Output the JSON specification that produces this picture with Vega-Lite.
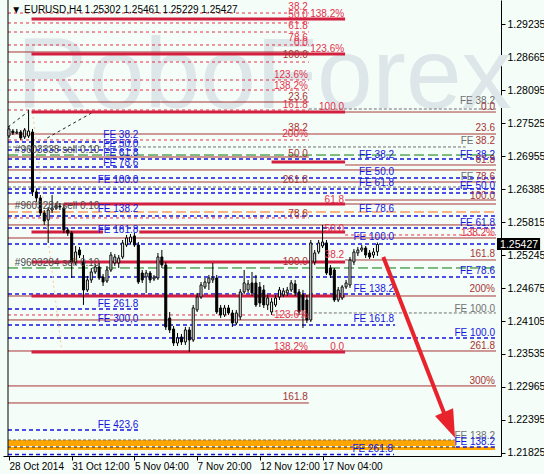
{
 "$schema": "https://vega.github.io/schema/vega-lite/v6.json",
 "width": 498, "height": 456,
 "autosize": {"type": "none"},
 "padding": {"left": 3, "top": 0, "right": 43, "bottom": 18},
 "background": "#f4fdf8",
 "config": {"view": {"stroke": null}, "font": "Liberation Sans"},
 "datasets": {
  "candles": [
   {"i":0,"o":1.27301,"c":1.27422,"h":1.27474,"l":1.27266},
   {"i":1,"o":1.27387,"c":1.27353,"h":1.27422,"l":1.27318},
   {"i":2,"o":1.27353,"c":1.27370,"h":1.27422,"l":1.27335},
   {"i":3,"o":1.27370,"c":1.27266,"h":1.27405,"l":1.27232},
   {"i":4,"o":1.27284,"c":1.27405,"h":1.27439,"l":1.27249},
   {"i":5,"o":1.27301,"c":1.27387,"h":1.27750,"l":1.27266},
   {"i":6,"o":1.27370,"c":1.26334,"h":1.27422,"l":1.26265},
   {"i":7,"o":1.26334,"c":1.26230,"h":1.26385,"l":1.26161},
   {"i":8,"o":1.26230,"c":1.25971,"h":1.26282,"l":1.25919},
   {"i":9,"o":1.25971,"c":1.25832,"h":1.26022,"l":1.25764},
   {"i":10,"o":1.25850,"c":1.26022,"h":1.26074,"l":1.25453},
   {"i":11,"o":1.26022,"c":1.26057,"h":1.26282,"l":1.25971},
   {"i":12,"o":1.26057,"c":1.26092,"h":1.26144,"l":1.26022},
   {"i":13,"o":1.26092,"c":1.26074,"h":1.26144,"l":1.26022},
   {"i":14,"o":1.26057,"c":1.25677,"h":1.26109,"l":1.25625},
   {"i":15,"o":1.25677,"c":1.25625,"h":1.25712,"l":1.25574},
   {"i":16,"o":1.25625,"c":1.25124,"h":1.25660,"l":1.24848},
   {"i":17,"o":1.25124,"c":1.25297,"h":1.25401,"l":1.25073},
   {"i":18,"o":1.25332,"c":1.25245,"h":1.25384,"l":1.25193},
   {"i":19,"o":1.25124,"c":1.24641,"h":1.25245,"l":1.24382},
   {"i":20,"o":1.24641,"c":1.24814,"h":1.24883,"l":1.24607},
   {"i":21,"o":1.24814,"c":1.24952,"h":1.25021,"l":1.24762},
   {"i":22,"o":1.24952,"c":1.25038,"h":1.25090,"l":1.24917},
   {"i":23,"o":1.25038,"c":1.24848,"h":1.25107,"l":1.24814},
   {"i":24,"o":1.24865,"c":1.24779,"h":1.24917,"l":1.24710},
   {"i":25,"o":1.24796,"c":1.24986,"h":1.25055,"l":1.24762},
   {"i":26,"o":1.24986,"c":1.25245,"h":1.25297,"l":1.24952},
   {"i":27,"o":1.25107,"c":1.25211,"h":1.25263,"l":1.25055},
   {"i":28,"o":1.25107,"c":1.25193,"h":1.25245,"l":1.25021},
   {"i":29,"o":1.25211,"c":1.25453,"h":1.25504,"l":1.25176},
   {"i":30,"o":1.25418,"c":1.25539,"h":1.25591,"l":1.25384},
   {"i":31,"o":1.25470,"c":1.25556,"h":1.25608,"l":1.25435},
   {"i":32,"o":1.25574,"c":1.25418,"h":1.25625,"l":1.25384},
   {"i":33,"o":1.25418,"c":1.24779,"h":1.25470,"l":1.24745},
   {"i":34,"o":1.24934,"c":1.24814,"h":1.24986,"l":1.24762},
   {"i":35,"o":1.24865,"c":1.24934,"h":1.24986,"l":1.24589},
   {"i":36,"o":1.24934,"c":1.24814,"h":1.24969,"l":1.24762},
   {"i":37,"o":1.24831,"c":1.24865,"h":1.24900,"l":1.24796},
   {"i":38,"o":1.24848,"c":1.25211,"h":1.25280,"l":1.24814},
   {"i":39,"o":1.25211,"c":1.25073,"h":1.25332,"l":1.25021},
   {"i":40,"o":1.25073,"c":1.24002,"h":1.25124,"l":1.23950},
   {"i":41,"o":1.24157,"c":1.23950,"h":1.24261,"l":1.23898},
   {"i":42,"o":1.23967,"c":1.23725,"h":1.24019,"l":1.23674},
   {"i":43,"o":1.23725,"c":1.23812,"h":1.23898,"l":1.23674},
   {"i":44,"o":1.23829,"c":1.23743,"h":1.23881,"l":1.23691},
   {"i":45,"o":1.23743,"c":1.23950,"h":1.24002,"l":1.23691},
   {"i":46,"o":1.23950,"c":1.23777,"h":1.24002,"l":1.23570},
   {"i":47,"o":1.23777,"c":1.24330,"h":1.24382,"l":1.23743},
   {"i":48,"o":1.24296,"c":1.24520,"h":1.24589,"l":1.24261},
   {"i":49,"o":1.24520,"c":1.24727,"h":1.24779,"l":1.24486},
   {"i":50,"o":1.24693,"c":1.24779,"h":1.24848,"l":1.24658},
   {"i":51,"o":1.24762,"c":1.24848,"h":1.24900,"l":1.24641},
   {"i":52,"o":1.24814,"c":1.24848,"h":1.25107,"l":1.24762},
   {"i":53,"o":1.24848,"c":1.24261,"h":1.24900,"l":1.24226},
   {"i":54,"o":1.24330,"c":1.24209,"h":1.24382,"l":1.24157},
   {"i":55,"o":1.24209,"c":1.24330,"h":1.24382,"l":1.24175},
   {"i":56,"o":1.24330,"c":1.24244,"h":1.24382,"l":1.24209},
   {"i":57,"o":1.24244,"c":1.24071,"h":1.24296,"l":1.24002},
   {"i":58,"o":1.24071,"c":1.24244,"h":1.24296,"l":1.24036},
   {"i":59,"o":1.24175,"c":1.24607,"h":1.24658,"l":1.24123},
   {"i":60,"o":1.24607,"c":1.24762,"h":1.24986,"l":1.24572},
   {"i":61,"o":1.24641,"c":1.24745,"h":1.24814,"l":1.24589},
   {"i":62,"o":1.24762,"c":1.24589,"h":1.24952,"l":1.24537},
   {"i":63,"o":1.24762,"c":1.24382,"h":1.24900,"l":1.24347},
   {"i":64,"o":1.24693,"c":1.24416,"h":1.24779,"l":1.24347},
   {"i":65,"o":1.24641,"c":1.24382,"h":1.24727,"l":1.24330},
   {"i":66,"o":1.24382,"c":1.24503,"h":1.24555,"l":1.24296},
   {"i":67,"o":1.24261,"c":1.24434,"h":1.24503,"l":1.24209},
   {"i":68,"o":1.24382,"c":1.24503,"h":1.24555,"l":1.24347},
   {"i":69,"o":1.24520,"c":1.24641,"h":1.24693,"l":1.24468},
   {"i":70,"o":1.24555,"c":1.24624,"h":1.24676,"l":1.24520},
   {"i":71,"o":1.24589,"c":1.24641,"h":1.24693,"l":1.24537},
   {"i":72,"o":1.24641,"c":1.24762,"h":1.24814,"l":1.24607},
   {"i":73,"o":1.24745,"c":1.24589,"h":1.24814,"l":1.24537},
   {"i":74,"o":1.24607,"c":1.24261,"h":1.24658,"l":1.24209},
   {"i":75,"o":1.24555,"c":1.24296,"h":1.24641,"l":1.23984},
   {"i":76,"o":1.24468,"c":1.24123,"h":1.24555,"l":1.24071},
   {"i":77,"o":1.24123,"c":1.25453,"h":1.25504,"l":1.24088},
   {"i":78,"o":1.25124,"c":1.25280,"h":1.25332,"l":1.25073},
   {"i":79,"o":1.25297,"c":1.25453,"h":1.25504,"l":1.25263},
   {"i":80,"o":1.25401,"c":1.25470,"h":1.25764,"l":1.25366},
   {"i":81,"o":1.25453,"c":1.24934,"h":1.25504,"l":1.24900},
   {"i":82,"o":1.25021,"c":1.24900,"h":1.25073,"l":1.24848},
   {"i":83,"o":1.24986,"c":1.24468,"h":1.25021,"l":1.24434},
   {"i":84,"o":1.24468,"c":1.24641,"h":1.24693,"l":1.24434},
   {"i":85,"o":1.24503,"c":1.24693,"h":1.24727,"l":1.24468},
   {"i":86,"o":1.24693,"c":1.24762,"h":1.24814,"l":1.24658},
   {"i":87,"o":1.24727,"c":1.25159,"h":1.25211,"l":1.24676},
   {"i":88,"o":1.25124,"c":1.25297,"h":1.25349,"l":1.25073},
   {"i":89,"o":1.25280,"c":1.25332,"h":1.25384,"l":1.25228},
   {"i":90,"o":1.25332,"c":1.25366,"h":1.25418,"l":1.25297},
   {"i":91,"o":1.25366,"c":1.25245,"h":1.25401,"l":1.25193},
   {"i":92,"o":1.25280,"c":1.25211,"h":1.25332,"l":1.25176},
   {"i":93,"o":1.25245,"c":1.25297,"h":1.25366,"l":1.25193},
   {"i":94,"o":1.25302,"c":1.25427,"h":1.25461,"l":1.25229}
  ],
  "lines": [
   {"p":1.29425,"a":-0.25,"b":76.5,"k":"fibo"},
   {"p":1.29253,"a":-0.25,"b":76.5,"k":"fibo"},
   {"p":1.29097,"a":-0.25,"b":76.5,"k":"fibo"},
   {"p":1.28873,"a":-0.25,"b":76.5,"k":"fibo"},
   {"p":1.28579,"a":-0.25,"b":76.5,"k":"fibo"},
   {"p":1.28268,"a":-0.25,"b":76.5,"k":"fibo"},
   {"p":1.28095,"a":-0.25,"b":76.5,"k":"fibo"},
   {"p":1.27750,"a":-0.25,"b":76.5,"k":"fibo"},
   {"p":1.27232,"a":-0.25,"b":76.5,"k":"fibo"},
   {"p":1.25885,"a":-0.25,"b":76.5,"k":"fibo"},
   {"p":1.24209,"a":-0.25,"b":76.5,"k":"fibo"},
   {"p":1.25591,"a":85.75,"b":124.25,"k":"fibo"},
   {"p":1.28752,"a":-0.25,"b":76.5,"k":"dred"},
   {"p":1.27888,"a":-0.25,"b":76.5,"k":"dred"},
   {"p":1.26938,"a":-0.25,"b":76.5,"k":"dred"},
   {"p":1.24123,"a":-0.25,"b":76.5,"k":"dred"},
   {"p":1.22689,"a":-0.25,"b":76.5,"k":"dred"},
   {"p":1.27715,"a":85.75,"b":124.25,"k":"dred"},
   {"p":1.26800,"a":85.75,"b":124.25,"k":"dred"},
   {"p":1.26195,"a":85.75,"b":124.25,"k":"dred"},
   {"p":1.25159,"a":85.75,"b":124.25,"k":"dred"},
   {"p":1.24537,"a":-0.25,"b":124.25,"k":"dred"},
   {"p":1.23587,"a":-0.25,"b":124.25,"k":"dred"},
   {"p":1.27335,"a":-0.25,"b":124.25,"k":"dred"},
   {"p":1.26714,"a":-0.25,"b":124.25,"k":"dred"},
   {"p":1.26506,"a":-0.25,"b":124.25,"k":"dred"},
   {"p":1.25764,"a":-0.25,"b":124.25,"k":"dred"},
   {"p":1.25539,"a":-0.25,"b":124.25,"k":"dred"},
   {"p":1.22983,"a":-0.25,"b":124.25,"k":"dred"},
   {"p":1.26126,"a":-0.25,"b":124.25,"k":"dred"},
   {"p":1.27767,"a":76.5,"b":124.25,"k":"gray"},
   {"p":1.24244,"a":76.5,"b":124.25,"k":"gray"},
   {"p":1.27111,"a":-0.25,"b":116.5,"k":"gray"},
   {"p":1.26420,"a":-0.25,"b":116.5,"k":"gray"},
   {"p":1.22050,"a":-0.25,"b":114,"k":"gray"},
   {"p":1.27197,"a":-0.25,"b":33.25,"k":"blue"},
   {"p":1.27059,"a":-0.25,"b":33.25,"k":"blue"},
   {"p":1.26765,"a":-0.25,"b":33.25,"k":"blue"},
   {"p":1.24313,"a":-0.25,"b":33.25,"k":"blue"},
   {"p":1.22223,"a":-0.25,"b":33.25,"k":"blue"},
   {"p":1.26904,"a":-0.25,"b":124.25,"k":"blue"},
   {"p":1.26575,"a":-0.25,"b":124.25,"k":"blue"},
   {"p":1.26385,"a":-0.25,"b":124.25,"k":"blue"},
   {"p":1.26316,"a":-0.25,"b":124.25,"k":"blue"},
   {"p":1.25919,"a":-0.25,"b":124.25,"k":"blue"},
   {"p":1.25712,"a":-0.25,"b":124.25,"k":"blue"},
   {"p":1.25435,"a":-0.25,"b":124.25,"k":"blue"},
   {"p":1.24865,"a":-0.25,"b":124.25,"k":"blue"},
   {"p":1.23812,"a":-0.25,"b":124.25,"k":"blue"},
   {"p":1.24572,"a":-0.25,"b":98.5,"k":"blue"},
   {"p":1.24036,"a":-0.25,"b":98.5,"k":"blue"},
   {"p":1.21800,"a":-0.25,"b":98.25,"k":"blue"},
   {"p":1.21929,"a":114,"b":124.25,"k":"blue"},
   {"p":1.26972,"a":-0.25,"b":124.25,"k":"green"},
   {"p":1.25021,"a":-0.25,"b":124.25,"k":"green"},
   {"p":1.25988,"a":-0.25,"b":124.25,"k":"orange"},
   {"p":1.21929,"a":-0.25,"b":114,"k":"black"}
  ],
  "thick": [
   {"p":1.29322,"a":5.75,"b":85.75},
   {"p":1.28717,"a":5.75,"b":85.75},
   {"p":1.27715,"a":5.75,"b":85.75},
   {"p":1.26852,"a":67,"b":85.75},
   {"p":1.26126,"a":14,"b":85.75},
   {"p":1.25643,"a":5.75,"b":24},
   {"p":1.25643,"a":33.25,"b":85.75},
   {"p":1.25124,"a":5.75,"b":85.75},
   {"p":1.24537,"a":5.75,"b":85.75},
   {"p":1.23570,"a":5.75,"b":85.75}
  ],
  "diag": [
   {"a":-0.25,"p1":1.27456,"b":4.75,"p2":1.27715,"k":"black"},
   {"a":9.75,"p1":1.27266,"b":21.5,"p2":1.27715,"k":"black"},
   {"a":6,"p1":1.27715,"b":13.5,"p2":1.23570,"k":"peach"}
  ],
  "bands": [
   {"a":-0.25,"b":114,"p1":1.22050,"p2":1.21946},
   {"a":-0.25,"b":124,"p1":1.21929,"p2":1.21877}
  ],
  "labels": [
   {"t":"38.2","x":76.5,"p":1.29477,"k":"fibo"},
   {"t":"50.0","x":76.5,"p":1.29339,"k":"fibo"},
   {"t":"61.8","x":76.5,"p":1.29149,"k":"fibo"},
   {"t":"78.6","x":76.5,"p":1.28942,"k":"fibo"},
   {"t":"0.0","x":76.5,"p":1.28855,"k":"fibo"},
   {"t":"100.0","x":76.5,"p":1.28648,"k":"dred"},
   {"t":"123.6%","x":76.5,"p":1.28303,"k":"fibo"},
   {"t":"138.2%","x":76.5,"p":1.28113,"k":"fibo"},
   {"t":"23.6","x":76.5,"p":1.27923,"k":"dred"},
   {"t":"161.8","x":76.5,"p":1.27785,"k":"fibo"},
   {"t":"138.2%","x":85.75,"p":1.29356,"k":"fibo"},
   {"t":"123.6%","x":85.75,"p":1.28752,"k":"fibo"},
   {"t":"100.0","x":85.75,"p":1.27750,"k":"fibo"},
   {"t":"FE 38.2","x":124.25,"p":1.27854,"k":"gray"},
   {"t":"0.0","x":124.25,"p":1.27750,"k":"dred"},
   {"t":"23.6","x":124.25,"p":1.27387,"k":"dred"},
   {"t":"38.2","x":124.25,"p":1.27163,"k":"dred"},
   {"t":"FE","x":118.75,"p":1.27163,"k":"gray"},
   {"t":"FE 38.2","x":124.25,"p":1.26921,"k":"blue"},
   {"t":"61.8","x":124.25,"p":1.26834,"k":"dred"},
   {"t":"78.6","x":124.25,"p":1.26541,"k":"dred"},
   {"t":"FE","x":118.75,"p":1.26541,"k":"gray"},
   {"t":"FE 50.0","x":124.25,"p":1.26385,"k":"blue"},
   {"t":"100.0","x":124.25,"p":1.26213,"k":"dred"},
   {"t":"FE 61.8","x":124.25,"p":1.25746,"k":"blue"},
   {"t":"138.2%","x":124.25,"p":1.25574,"k":"fibo"},
   {"t":"161.8","x":124.25,"p":1.25211,"k":"dred"},
   {"t":"FE 78.6","x":124.25,"p":1.24917,"k":"blue"},
   {"t":"200%","x":124.25,"p":1.24607,"k":"dred"},
   {"t":"FE 100.0","x":124.25,"p":1.24261,"k":"gray"},
   {"t":"FE 100.0","x":124.25,"p":1.23846,"k":"blue"},
   {"t":"261.8","x":124.25,"p":1.23622,"k":"dred"},
   {"t":"300%","x":124.25,"p":1.23017,"k":"dred"},
   {"t":"FE 138.2","x":124.25,"p":1.22067,"k":"gray"},
   {"t":"FE 138.2","x":124.25,"p":1.21964,"k":"blue"},
   {"t":"FE 38.2","x":98.5,"p":1.26921,"k":"blue"},
   {"t":"FE 50.0","x":98.5,"p":1.26627,"k":"blue"},
   {"t":"FE 61.8","x":98.5,"p":1.26437,"k":"blue"},
   {"t":"FE 78.6","x":98.5,"p":1.25988,"k":"blue"},
   {"t":"FE 100.0","x":98.5,"p":1.25504,"k":"blue"},
   {"t":"FE 138.2","x":98.5,"p":1.24607,"k":"blue"},
   {"t":"FE 161.8","x":98.5,"p":1.24088,"k":"blue"},
   {"t":"FE 261.8","x":98.25,"p":1.21843,"k":"blue"},
   {"t":"FE 38.2","x":33.25,"p":1.27266,"k":"blue"},
   {"t":"FE 50.0","x":33.25,"p":1.27111,"k":"blue"},
   {"t":"FE 61.8","x":33.25,"p":1.26955,"k":"blue"},
   {"t":"FE 78.6","x":33.25,"p":1.26783,"k":"blue"},
   {"t":"FE 100.0","x":33.25,"p":1.26489,"k":"blue"},
   {"t":"FE 138.2","x":33.25,"p":1.25988,"k":"blue"},
   {"t":"FE 161.8","x":33.25,"p":1.25625,"k":"blue"},
   {"t":"FE 261.8","x":33.25,"p":1.24347,"k":"blue"},
   {"t":"FE 300,0","x":33.25,"p":1.24088,"k":"blue"},
   {"t":"FE 423,6","x":33.25,"p":1.22257,"k":"blue"},
   {"t":"38.2","x":76.5,"p":1.27387,"k":"dred"},
   {"t":"200%","x":76.5,"p":1.27284,"k":"fibo"},
   {"t":"50.0","x":76.5,"p":1.26938,"k":"dred"},
   {"t":"261.8","x":76.5,"p":1.26489,"k":"dred"},
   {"t":"78.6","x":76.5,"p":1.25902,"k":"dred"},
   {"t":"100.0","x":76.5,"p":1.25073,"k":"dred"},
   {"t":"123.6%","x":76.5,"p":1.24157,"k":"fibo"},
   {"t":"138.2%","x":76.5,"p":1.23604,"k":"fibo"},
   {"t":"161.8","x":76.5,"p":1.22741,"k":"dred"},
   {"t":"61.8","x":85.75,"p":1.26144,"k":"fibo"},
   {"t":"50.0","x":85.75,"p":1.25643,"k":"fibo"},
   {"t":"38.2","x":85.75,"p":1.25193,"k":"fibo"},
   {"t":"0.0","x":85.75,"p":1.23604,"k":"fibo"}
  ],
  "notes": [
   {"t":"#9603338 sell 0.10","x":1.5,"p":1.27007},
   {"t":"#9603284 sell 0.10","x":1.5,"p":1.26040},
   {"t":"#9603284 sell 0.10","x":1.5,"p":1.25055}
  ],
  "head": [{"t":"▼ EURUSD,H4  1.25302 1.25461 1.25229 1.25427","x":0.6,"p":1.29425}],
  "mark": [{"t":"RoboForex","x":2,"p":1.27785}],
  "arrow": [{"a":95.5,"p1":1.25211,"b":111.5,"p2":1.22430}],
  "tip": [{"x":112.4,"p":1.22309}],
  "price": [{"t":"1.25427","a":124.5,"b":135.5,"p1":1.25539,"p2":1.25332,"x":125.3,"p":1.25366}]
 },
 "layer": [
  {"data":{"name":"price"},
   "mark":{"type":"rect","color":"#000000"},
   "encoding":{"x":{"field":"a","type":"quantitative","scale":{"domain":[-0.25,124.25],"nice":false,"zero":false},
       "axis":{"orient":"bottom","values":[0,16,32,48,64,80],"tickCount":20,"labelExpr":"datum.value==0?'28 Oct 2014':datum.value==16?'31 Oct 12:00':datum.value==32?'5 Nov 04:00':datum.value==48?'7 Nov 20:00':datum.value==64?'12 Nov 12:00':'17 Nov 04:00'","labelAlign":"left","labelFont":"Liberation Sans","labelFontSize":10,"labelColor":"#000000","tickColor":"#000000","tickSize":4,"domainColor":"#000000","labelPadding":1,"grid":false,"title":null,"labelOverlap":false,"labelFlush":false}},
     "x2":{"field":"b"},
     "y":{"field":"p1","type":"quantitative","scale":{"domain":[1.21773,1.2965],"nice":false,"zero":false},
       "axis":{"orient":"right","values":[1.21825,1.22395,1.22965,1.23535,1.24105,1.24675,1.25245,1.25815,1.26385,1.26955,1.27525,1.28095,1.28665,1.29235],"tickCount":30,"format":".5f","labelFont":"Liberation Sans","labelFontSize":10.5,"labelColor":"#000000","tickColor":"#000000","tickSize":4,"domainColor":"#000000","labelPadding":2,"grid":false,"title":null,"labelOverlap":false}},
     "y2":{"field":"p2"}}},
  {"data":{"name":"mark"},
   "mark":{"type":"text","align":"left","baseline":"alphabetic","font":"Liberation Sans","fontSize":100,"color":"#dde6e9"},
   "encoding":{"x":{"field":"x","type":"quantitative","scale":{"domain":[-0.25,124.25],"nice":false,"zero":false}},
     "y":{"field":"p","type":"quantitative","scale":{"domain":[1.21773,1.2965],"nice":false,"zero":false}},
     "text":{"field":"t"}}},
  {"data":{"name":"bands"},
   "mark":{"type":"rect","color":"#ffa500"},
   "encoding":{"x":{"field":"a","type":"quantitative","scale":{"domain":[-0.25,124.25],"nice":false,"zero":false}},"x2":{"field":"b"},
     "y":{"field":"p1","type":"quantitative","scale":{"domain":[1.21773,1.2965],"nice":false,"zero":false}},"y2":{"field":"p2"}}},
  {"data":{"name":"lines"},
   "mark":{"type":"rule"},
   "encoding":{"x":{"field":"a","type":"quantitative","scale":{"domain":[-0.25,124.25],"nice":false,"zero":false}},"x2":{"field":"b"},
     "y":{"field":"p","type":"quantitative","scale":{"domain":[1.21773,1.2965],"nice":false,"zero":false}},
     "color":{"field":"k","type":"nominal","legend":null,"scale":{"domain":["fibo","dred","blue","gray","green","orange","black","peach"],"range":["#e4304a","#a83434","#1515e0","#707070","#0a7a0a","#ff6a10","#222222","#f0c8a0"]}},
     "strokeDash":{"field":"k","type":"nominal","legend":null,"scale":{"domain":["fibo","dred","blue","gray","green","orange","black","peach"],"range":[[3,3],[1,0],[4,3],[3,2],[10,4],[10,4],[3,3],[2,3]]}},
     "strokeWidth":{"condition":{"test":"datum.k == 'blue'","value":1.6},"value":1}}},
  {"data":{"name":"diag"},
   "mark":{"type":"rule","strokeWidth":1},
   "encoding":{"x":{"field":"a","type":"quantitative","scale":{"domain":[-0.25,124.25],"nice":false,"zero":false}},"x2":{"field":"b"},
     "y":{"field":"p1","type":"quantitative","scale":{"domain":[1.21773,1.2965],"nice":false,"zero":false}},"y2":{"field":"p2"},
     "color":{"field":"k","type":"nominal","legend":null,"scale":{"domain":["fibo","dred","blue","gray","green","orange","black","peach"],"range":["#e4304a","#a83434","#1515e0","#707070","#0a7a0a","#ff6a10","#222222","#f0c8a0"]}},
     "strokeDash":{"field":"k","type":"nominal","legend":null,"scale":{"domain":["fibo","dred","blue","gray","green","orange","black","peach"],"range":[[3,3],[1,0],[4,3],[3,2],[10,4],[10,4],[3,3],[2,3]]}}}},
  {"data":{"name":"thick"},
   "mark":{"type":"rule","color":"#d42040","strokeWidth":3},
   "encoding":{"x":{"field":"a","type":"quantitative","scale":{"domain":[-0.25,124.25],"nice":false,"zero":false}},"x2":{"field":"b"},
     "y":{"field":"p","type":"quantitative","scale":{"domain":[1.21773,1.2965],"nice":false,"zero":false}}}},
  {"data":{"values":[{"v":-0.25}]},
   "mark":{"type":"rule","color":"#000000","strokeWidth":1},
   "encoding":{"x":{"field":"v","type":"quantitative","scale":{"domain":[-0.25,124.25],"nice":false,"zero":false}}}},
  {"data":{"name":"candles"},
   "mark":{"type":"rule","color":"#000000","strokeWidth":1},
   "encoding":{"x":{"field":"i","type":"quantitative","scale":{"domain":[-0.25,124.25],"nice":false,"zero":false}},
     "y":{"field":"l","type":"quantitative","scale":{"domain":[1.21773,1.2965],"nice":false,"zero":false}},
     "y2":{"field":"h"}}},
  {"data":{"name":"candles"},
   "mark":{"type":"bar","size":2,"stroke":"#000000","strokeWidth":1},
   "encoding":{"x":{"field":"i","type":"quantitative","scale":{"domain":[-0.25,124.25],"nice":false,"zero":false}},
     "y":{"field":"o","type":"quantitative","scale":{"domain":[1.21773,1.2965],"nice":false,"zero":false}},
     "y2":{"field":"c"},
     "fill":{"condition":{"test":"datum.c >= datum.o","value":"#ffffff"},"value":"#000000"}}},
  {"data":{"name":"labels"},
   "mark":{"type":"text","align":"right","baseline":"alphabetic","font":"Liberation Sans","fontSize":10,"dx":-1},
   "encoding":{"x":{"field":"x","type":"quantitative","scale":{"domain":[-0.25,124.25],"nice":false,"zero":false}},
     "y":{"field":"p","type":"quantitative","scale":{"domain":[1.21773,1.2965],"nice":false,"zero":false}},
     "text":{"field":"t"},
     "color":{"field":"k","type":"nominal","legend":null,"scale":{"domain":["fibo","dred","blue","gray","green","orange","black","peach"],"range":["#e4304a","#a83434","#1515e0","#707070","#0a7a0a","#ff6a10","#222222","#f0c8a0"]}}}},
  {"data":{"name":"notes"},
   "mark":{"type":"text","align":"left","baseline":"alphabetic","font":"Liberation Sans","fontSize":10,"color":"#4a4a4a"},
   "encoding":{"x":{"field":"x","type":"quantitative","scale":{"domain":[-0.25,124.25],"nice":false,"zero":false}},
     "y":{"field":"p","type":"quantitative","scale":{"domain":[1.21773,1.2965],"nice":false,"zero":false}},
     "text":{"field":"t"}}},
  {"data":{"name":"head"},
   "mark":{"type":"text","align":"left","baseline":"alphabetic","font":"Liberation Sans","fontSize":10,"color":"#000000"},
   "encoding":{"x":{"field":"x","type":"quantitative","scale":{"domain":[-0.25,124.25],"nice":false,"zero":false}},
     "y":{"field":"p","type":"quantitative","scale":{"domain":[1.21773,1.2965],"nice":false,"zero":false}},
     "text":{"field":"t"}}},
  {"data":{"name":"arrow"},
   "mark":{"type":"rule","color":"#e8232b","strokeWidth":4},
   "encoding":{"x":{"field":"a","type":"quantitative","scale":{"domain":[-0.25,124.25],"nice":false,"zero":false}},"x2":{"field":"b"},
     "y":{"field":"p1","type":"quantitative","scale":{"domain":[1.21773,1.2965],"nice":false,"zero":false}},"y2":{"field":"p2"}}},
  {"data":{"name":"tip"},
   "mark":{"type":"point","shape":"M0,1L-0.7,-1L0.7,-1Z","filled":true,"opacity":1,"color":"#e8232b","size":784,"angle":337},
   "encoding":{"x":{"field":"x","type":"quantitative","scale":{"domain":[-0.25,124.25],"nice":false,"zero":false}},
     "y":{"field":"p","type":"quantitative","scale":{"domain":[1.21773,1.2965],"nice":false,"zero":false}}}},
  {"data":{"name":"price"},
   "mark":{"type":"text","align":"left","baseline":"alphabetic","font":"Liberation Sans","fontSize":10.5,"color":"#ffffff"},
   "encoding":{"x":{"field":"x","type":"quantitative","scale":{"domain":[-0.25,124.25],"nice":false,"zero":false}},
     "y":{"field":"p","type":"quantitative","scale":{"domain":[1.21773,1.2965],"nice":false,"zero":false}},
     "text":{"field":"t"}}}
 ]
}
